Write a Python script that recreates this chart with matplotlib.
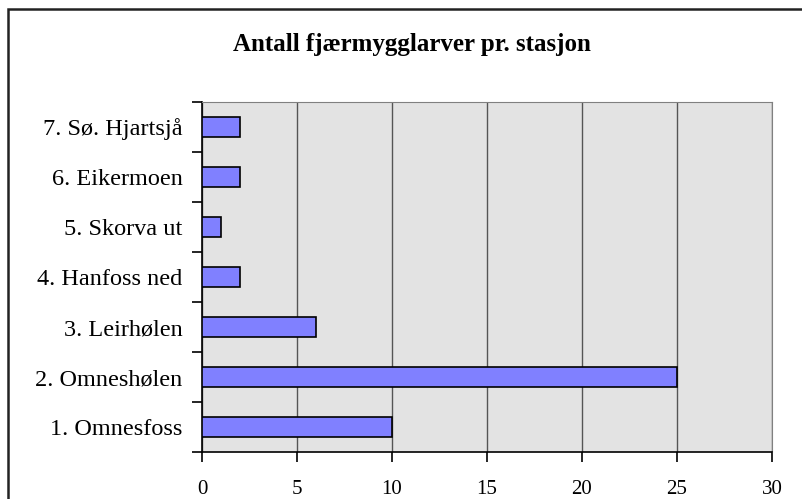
import matplotlib.pyplot as plt
from matplotlib.patches import Rectangle

stations = ["1. Omnesfoss", "2. Omneshølen", "3. Leirhølen", "4. Hanfoss ned",
            "5. Skorva ut", "6. Eikermoen", "7. Sø. Hjartsjå"]
counts = [10, 25, 6, 2, 1, 2, 2]
xticks = [0, 5, 10, 15, 20, 25, 30]

plt.rcParams['font.family'] = ['Liberation Serif', 'DejaVu Serif']

W, H = 803, 499
fig = plt.figure(figsize=(W / 100, H / 100), dpi=100)

# outer chart frame (right and bottom run off the picture)
fig.patches.append(Rectangle((8 / W, -0.1), 1.2, 1 - 9 / H + 0.1, transform=fig.transFigure,
                             fill=False, edgecolor='#222222', linewidth=1.8))

left, right, top, bottom = 202, 772, 102, 452
ax = fig.add_axes([left / W, 1 - bottom / H, (right - left) / W, (bottom - top) / H])
ax.set_facecolor('#E3E3E3')

pos = range(len(stations))
ax.barh(pos, counts, height=0.4, color='#8080FF', edgecolor='black', linewidth=1.2, zorder=3)

ax.set_xlim(0, 30)
ax.set_ylim(-0.5, len(stations) - 0.5)
ax.set_xticks(xticks)
ax.set_xticklabels([str(t) for t in xticks], fontsize=15)
ax.set_yticks(list(pos))
ax.set_yticklabels(stations, fontsize=17.5)
ax.set_yticks([i - 0.5 for i in range(len(stations) + 1)], minor=True)
ax.tick_params(axis='y', which='major', length=0, pad=14)
ax.tick_params(axis='y', which='minor', length=7, width=1.2, direction='out')
ax.tick_params(axis='x', length=7, width=1.2, direction='out', pad=13)

ax.grid(axis='x', color='#555555', linewidth=1, zorder=1)
for s in ['top', 'right']:
    ax.spines[s].set_color('#808080')
for s in ['left', 'bottom']:
    ax.spines[s].set_color('black')
    ax.spines[s].set_linewidth(1.2)

fig.text(412 / W, 1 - 45 / H, "Antall fjærmygglarver pr. stasjon",
         ha='center', va='center', fontsize=18, fontweight='bold')

fig.savefig('out.png', dpi=100)
